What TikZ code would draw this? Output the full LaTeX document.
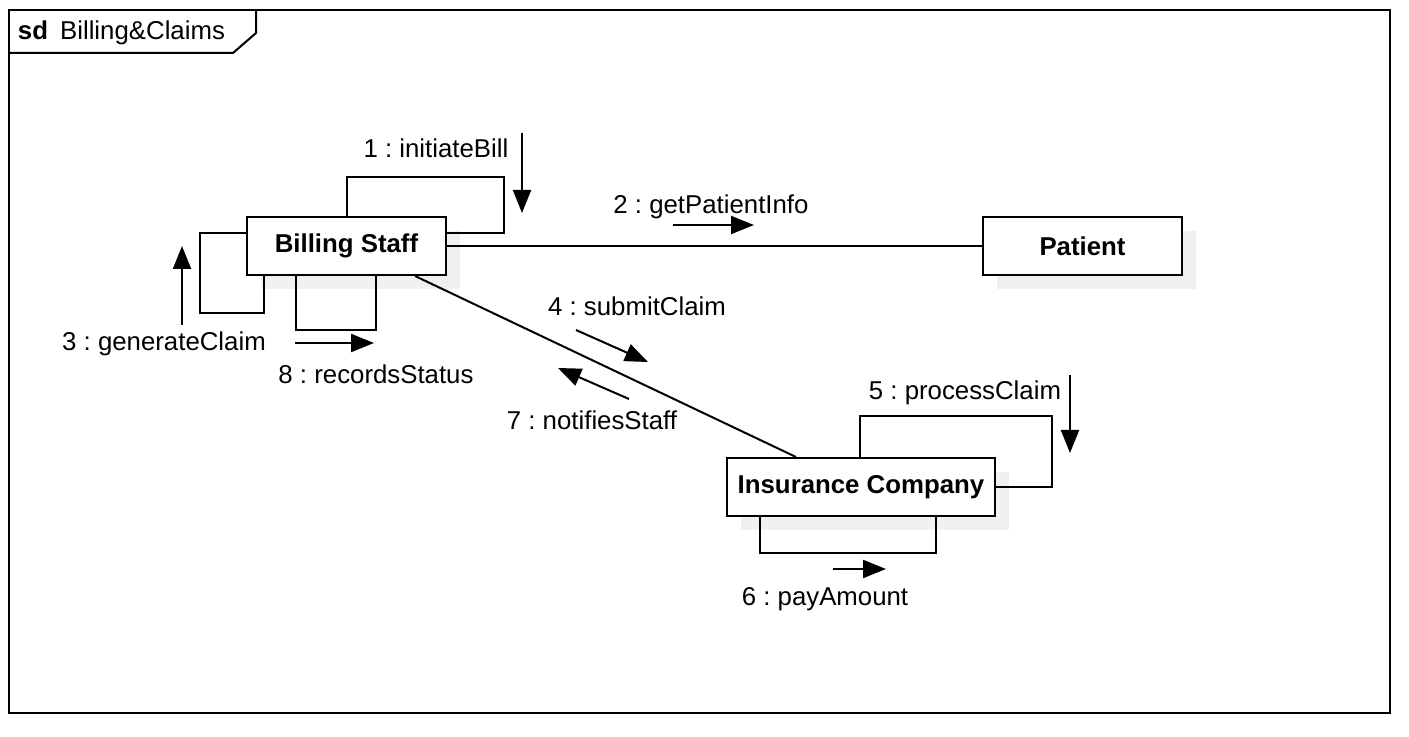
\documentclass[tikz,border=0pt]{standalone}
\usepackage{fontspec}
\setmainfont{Liberation Sans}
\usetikzlibrary{arrows.meta}
\usetikzlibrary{shadows}
\frenchspacing

\tikzset{
  lifeline/.style={draw, line width=1pt, fill=white, font=\fontsize{12.9}{15}\selectfont\bfseries,
    minimum height=29pt, inner sep=0pt,
    drop shadow={shadow xshift=7pt, shadow yshift=-7pt, fill=black!6, opacity=1}},
  msg/.style={-{Triangle[length=11.5pt,width=9pt]}, line width=1pt},
  msglabel/.style={anchor=base, inner sep=0pt}
}

\begin{document}
\begin{tikzpicture}[x=0.5pt, y=-0.5pt, line width=1pt, font=\fontsize{12.9}{15}\selectfont]
	\useasboundingbox (0,0) rectangle (1409,737);
	% frame and its tab
	\draw (9,10) rectangle (1390,713);
	\draw (9,53) -- (233,53) -- (256,33) -- (256,10);
	\node[anchor=base west, inner sep=0pt] (title) at (17,40) {\textbf{sd}\hspace{6pt}Billing\&Claims};

	% lifelines
	\node[lifeline, minimum width=99.5pt] (staff) at (346.5,246) {Billing Staff};
	\node[lifeline, minimum width=99.5pt] (patient) at (1082.5,246) {Patient};
	\node[lifeline, minimum width=134pt] (insurer) at (861,487) {Insurance Company};

	% links
	\draw (staff.east) -- (patient.west);
	\draw ([xshift=34.25pt]staff.south) -- ([xshift=-32.5pt]insurer.north);
	\draw (staff.north) |- (504,177) |- ([yshift=6.5pt]staff.east);
	\draw ([yshift=6.5pt]staff.west) -| (200,313) -| ([xshift=-41.25pt]staff.south);
	\draw ([xshift=-25.25pt]staff.south) |- (376,330) -- ([xshift=14.75pt]staff.south);
	\draw ([xshift=-0.5pt]insurer.north) |- (1052,416) |- (insurer.east);
	\draw ([xshift=-50.5pt]insurer.south) |- (936,553) -- ([xshift=37.5pt]insurer.south);

	% messages
	\draw[msg] (522,133) -- (522,213);
	\node[msglabel] (m1) at (436,158) {1 : initiateBill};
	\draw[msg] (673,225) -- (754,225);
	\node[msglabel] (m2) at (711,214) {2 : getPatientInfo};
	\draw[msg] (182,325) -- (182,246);
	\node[msglabel] (m3) at (164,351) {3 : generateClaim};
	\draw[msg] (576,330) -- (648,362);
	\node[msglabel] (m4) at (637,316) {4 : submitClaim};
	\draw[msg] (1070,375) -- (1070,453);
	\node[msglabel] (m5) at (965,400) {5 : processClaim};
	\draw[msg] (833,569) -- (886,569);
	\node[msglabel] (m6) at (825,605) {6 : payAmount};
	\draw[msg] (629,399) -- (558,368);
	\node[msglabel] (m7) at (592,430) {7 : notifiesStaff};
	\draw[msg] (295,343) -- (374,343);
	\node[msglabel] (m8) at (376,384) {8 : recordsStatus};
\end{tikzpicture}
\end{document}
